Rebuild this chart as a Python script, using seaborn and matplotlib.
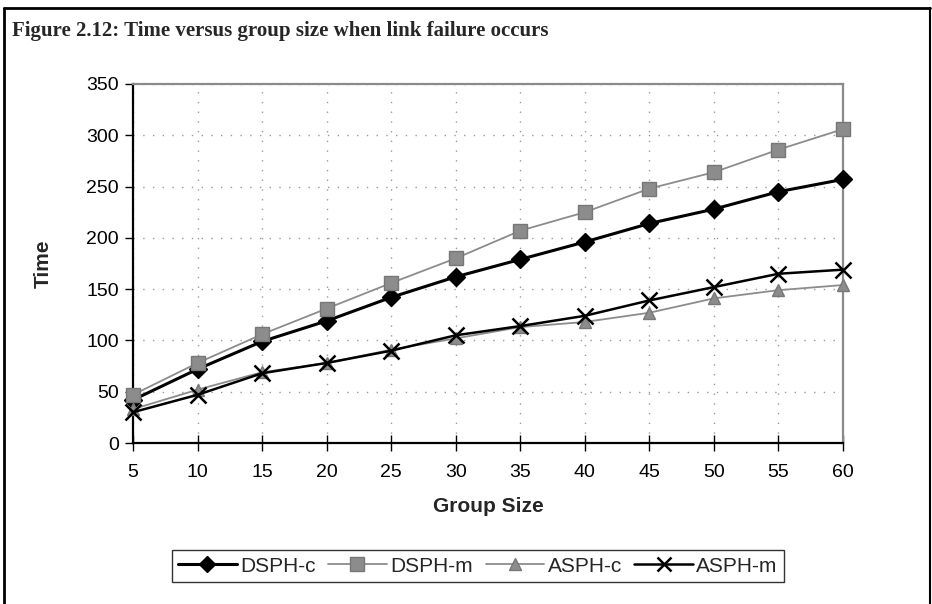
import matplotlib
matplotlib.use("Agg")
import matplotlib.pyplot as plt
import seaborn as sns
import pandas as pd
from matplotlib.lines import Line2D

group_size = [5, 10, 15, 20, 25, 30, 35, 40, 45, 50, 55, 60]
dsph_c = [42, 72, 99, 119, 142, 162, 179, 196, 214, 228, 245, 257]
dsph_m = [47, 78, 106, 131, 156, 180, 207, 225, 248, 264, 286, 306]
asph_c = [33, 52, 69, 78, 91, 102, 113, 118, 127, 141, 149, 154]
asph_m = [30, 47, 68, 78, 90, 105, 114, 124, 139, 152, 165, 169]
series_names = ["DSPH-c", "DSPH-m", "ASPH-c", "ASPH-m"]
yticks = [0, 50, 100, 150, 200, 250, 300, 350]

sns.set_theme(style="white")
plt.rcParams['font.family'] = ['Liberation Sans', 'DejaVu Sans']

fig = plt.figure(figsize=(9.32, 6.04), dpi=100)
ax = fig.add_axes([133/932, 1-443/604, (843-133)/932, (443-84)/604])

styles = {
    "DSPH-c": dict(color="black", marker="D", lw=2.2, ms=9, mec="black", mfc="black"),
    "DSPH-m": dict(color="#8c8c8c", marker="s", lw=1.3, ms=10, mec="#777777", mfc="#8c8c8c"),
    "ASPH-c": dict(color="#8c8c8c", marker="^", lw=1.3, ms=9, mec="#777777", mfc="#8c8c8c"),
    "ASPH-m": dict(color="black", marker="x", lw=1.8, ms=11, mec="black", mew=1.8),
}
data = {"DSPH-c": dsph_c, "DSPH-m": dsph_m, "ASPH-c": asph_c, "ASPH-m": asph_m}
handles = []
for name in series_names:
    df = pd.DataFrame({"size": group_size, "time": data[name]})
    st = styles[name]
    sns.lineplot(data=df, x="size", y="time", ax=ax, color=st["color"], lw=st["lw"],
                 marker=st["marker"], markersize=st["ms"], markeredgecolor=st["mec"],
                 markerfacecolor=st.get("mfc", st["color"]), markeredgewidth=st.get("mew", 1),
                 legend=False, zorder=3, clip_on=False)
    handles.append(Line2D([], [], color=st["color"], lw=st["lw"], marker=st["marker"],
                          markersize=st["ms"]*0.95, markeredgecolor=st["mec"],
                          markerfacecolor=st.get("mfc", st["color"]),
                          markeredgewidth=st.get("mew", 1)))

ax.set_xlim(5, 60)
ax.set_ylim(0, 350)
ax.set_xticks(group_size)
ax.set_yticks(yticks)
ax.tick_params(axis='x', direction='inout', length=12, width=1, labelsize=14, pad=9, colors='black')
ax.tick_params(axis='y', direction='out', length=6, width=1, labelsize=14, pad=4, colors='black')
ax.tick_params(axis='both', which='both', bottom=True, left=True)
ax.grid(True, color="#9a9a9a", linestyle=(0, (1, 6)), linewidth=1)
for s in ["left", "bottom"]:
    ax.spines[s].set_color("black")
    ax.spines[s].set_linewidth(1.6)
for s in ["top", "right"]:
    ax.spines[s].set_color("#8a8a8a")
    ax.spines[s].set_linewidth(1.6)
ax.set_xlabel("Group Size", fontsize=15, fontweight="bold", labelpad=12)
ax.set_ylabel("Time", fontsize=15, fontweight="bold", labelpad=24)

leg = fig.legend(handles, series_names, loc="center", bbox_to_anchor=(478/932, 1-566/604),
                 ncol=4, fontsize=15, frameon=True, fancybox=False, handlelength=2.8,
                 columnspacing=0.6, handletextpad=0.18, borderpad=0.3, borderaxespad=0)
leg.get_frame().set_edgecolor("black")
leg.get_frame().set_linewidth(1.0)

fig.text(12/932, 1-31/604, "Figure 2.12: Time versus group size when link failure occurs",
         fontsize=15, fontweight="bold", family="Liberation Serif", va="center", ha="left")

# outer frame
fig.add_artist(Line2D([4/932, 4/932], [0, 1-8/604], transform=fig.transFigure, color="black", lw=2))
fig.add_artist(Line2D([4/932, 930/932], [1-8/604, 1-8/604], transform=fig.transFigure, color="black", lw=2))
fig.add_artist(Line2D([930/932, 930/932], [0, 1-8/604], transform=fig.transFigure, color="black", lw=1.5))

fig.savefig("out.png", dpi=100)
